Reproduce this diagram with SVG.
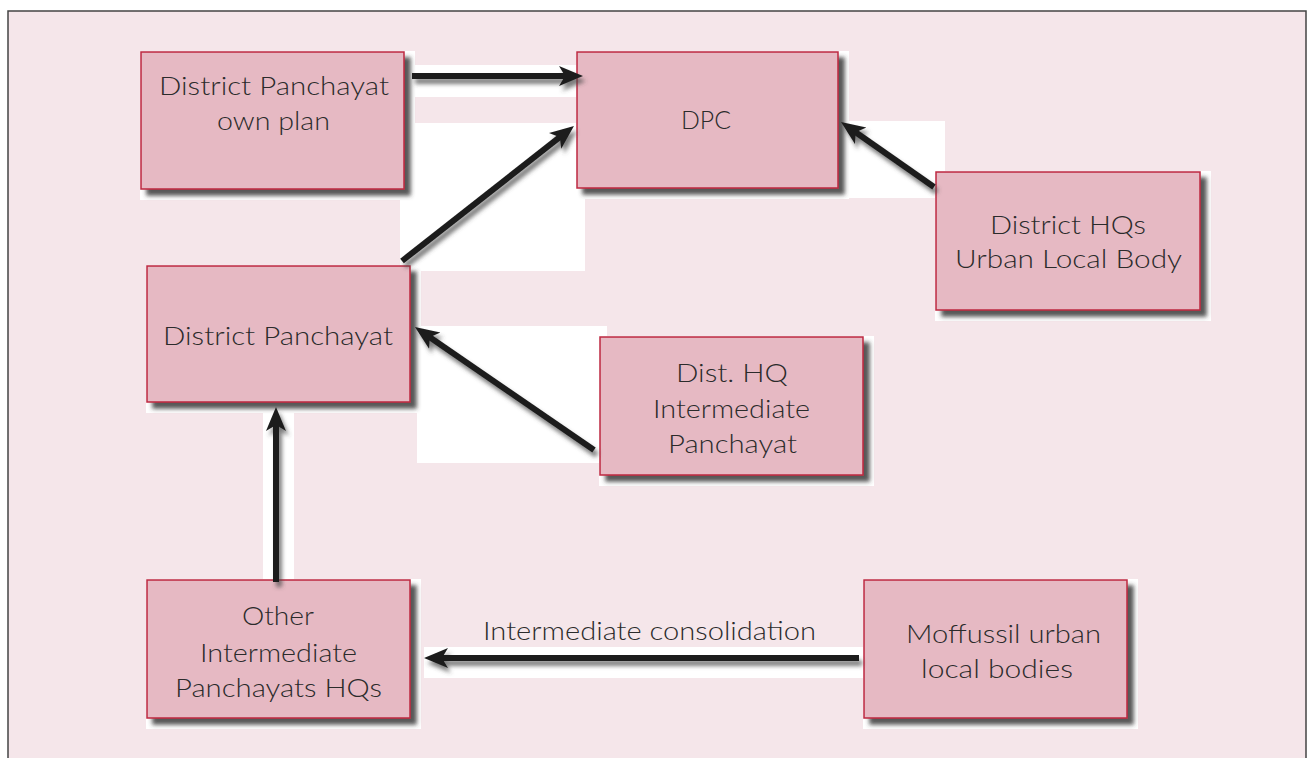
<svg xmlns="http://www.w3.org/2000/svg" width="1308" height="758" viewBox="0 0 1308 758">
  <style>
    .box { fill: #E6B9C3; stroke: #BD2840; stroke-width: 1.5; }
    .back { fill: #FFFFFF; }
    .patch { fill: #FFFFFF; }
    .lbl { font-family: Lato, "Open Sans", sans-serif; font-weight: 300; font-size: 25px; fill: #2B2B2B; text-anchor: middle; }
    .cond { font-family: Lato, "Open Sans", sans-serif; font-weight: 300; font-size: 25px; fill: #2B2B2B; text-anchor: middle; }
    .arrow { fill: none; stroke: #1E1E1E; stroke-width: 6; stroke-linecap: butt; marker-end: url(#head); }
  </style>
  <defs>
    <filter id="boxShadow" x="-10%" y="-10%" width="125%" height="130%">
      <feDropShadow dx="6" dy="6" stdDeviation="2" flood-color="#3A3A3A" flood-opacity="0.85"/>
    </filter>
    <filter id="arrowShadow" x="-20%" y="-20%" width="140%" height="140%">
      <feDropShadow dx="3" dy="5" stdDeviation="2" flood-color="#444444" flood-opacity="0.7"/>
    </filter>
    <marker id="head" markerUnits="userSpaceOnUse" markerWidth="26" markerHeight="22" viewBox="0 0 26 22" refX="14" refY="11" orient="auto">
      <path d="M0,1 L24,11 L0,21 L6,11 Z" fill="#1E1E1E"/>
    </marker>
  </defs>

  <!-- page background and frame -->
  <rect x="0" y="0" width="1308" height="758" fill="#FFFFFF"/>
  <rect x="8" y="11" width="1298" height="760" fill="#F5E6EA"/>
  <path d="M8,770 V11 H1306 V770" fill="none" stroke="#444444" stroke-width="1.5"/>

  <!-- white panels behind connectors -->
  <g id="patches">
    <rect class="patch" x="409" y="65" width="180" height="32"/>
    <rect class="patch" x="400" y="123" width="185" height="148"/>
    <rect class="patch" x="840" y="121" width="105" height="77"/>
    <rect class="patch" x="417" y="326" width="190" height="137"/>
    <rect class="patch" x="263" y="407" width="31" height="185"/>
    <rect class="patch" x="424" y="647" width="446" height="31"/>
  </g>

  <g id="node-dp-own-plan">
    <rect class="back" x="140" y="51" width="275" height="149"/>
    <rect class="box" x="141" y="52" width="263" height="137" filter="url(#boxShadow)"/>
    <text class="lbl" x="274" y="95" textLength="230" lengthAdjust="spacingAndGlyphs">District Panchayat</text>
    <text class="lbl" x="273.5" y="130" textLength="113" lengthAdjust="spacingAndGlyphs">own plan</text>
  </g>

  <g id="node-dpc">
    <rect class="back" x="576" y="51" width="273" height="148"/>
    <rect class="box" x="577" y="52" width="261" height="136" filter="url(#boxShadow)"/>
    <text class="lbl" x="706" y="129" textLength="50" lengthAdjust="spacingAndGlyphs">DPC</text>
  </g>

  <g id="node-district-hq-ulb">
    <rect class="back" x="935" y="171" width="276" height="150"/>
    <rect class="box" x="936" y="172" width="264" height="138" filter="url(#boxShadow)"/>
    <text class="lbl" x="1068" y="234" textLength="156" lengthAdjust="spacingAndGlyphs">District HQs</text>
    <text class="lbl" x="1068.5" y="268" textLength="227" lengthAdjust="spacingAndGlyphs">Urban Local Body</text>
  </g>

  <g id="node-district-panchayat">
    <rect class="back" x="146" y="265" width="275" height="148"/>
    <rect class="box" x="147" y="266" width="263" height="136" filter="url(#boxShadow)"/>
    <text class="lbl" x="278" y="345" textLength="230" lengthAdjust="spacingAndGlyphs">District Panchayat</text>
  </g>

  <g id="node-dist-hq-ip">
    <rect class="back" x="599" y="336" width="275" height="150"/>
    <rect class="box" x="600" y="337" width="263" height="138" filter="url(#boxShadow)"/>
    <text class="lbl" x="732" y="382" textLength="112" lengthAdjust="spacingAndGlyphs">Dist. HQ</text>
    <text class="lbl" x="731.5" y="418" textLength="157" lengthAdjust="spacingAndGlyphs">Intermediate</text>
    <text class="lbl" x="732.5" y="453" textLength="129" lengthAdjust="spacingAndGlyphs">Panchayat</text>
  </g>

  <g id="node-other-ip-hq">
    <rect class="back" x="146" y="579" width="275" height="150"/>
    <rect class="box" x="147" y="580" width="263" height="138" filter="url(#boxShadow)"/>
    <text class="lbl" x="278" y="625" textLength="72" lengthAdjust="spacingAndGlyphs">Other</text>
    <text class="lbl" x="278.5" y="662" textLength="157" lengthAdjust="spacingAndGlyphs">Intermediate</text>
    <text class="lbl" x="278.5" y="697" textLength="207" lengthAdjust="spacingAndGlyphs">Panchayats HQs</text>
  </g>

  <g id="node-moffussil">
    <rect class="back" x="863" y="579" width="275" height="150"/>
    <rect class="box" x="864" y="580" width="263" height="138" filter="url(#boxShadow)"/>
    <text class="cond" x="1003.5" y="643" textLength="195" lengthAdjust="spacingAndGlyphs">Moffussil urban</text>
    <text class="cond" x="997" y="678" textLength="152" lengthAdjust="spacingAndGlyphs">local bodies</text>
  </g>

  <!-- connectors -->
  <g id="connectors">
    <g filter="url(#arrowShadow)">
      <path class="arrow" d="M412,76 L573,76"/>
      <path class="arrow" d="M402,261 L566.1,132.2"/>
      <path class="arrow" d="M934,187 L849.2,127.7"/>
      <path class="arrow" d="M594,450 L423.2,332.7"/>
      <path class="arrow" d="M276,582 L276,417"/>
      <path class="arrow" d="M859,658 L434,658"/>
    </g>
    <text class="cond" x="649.5" y="640" textLength="333" lengthAdjust="spacingAndGlyphs">Intermediate consolidation</text>
  </g>
</svg>
